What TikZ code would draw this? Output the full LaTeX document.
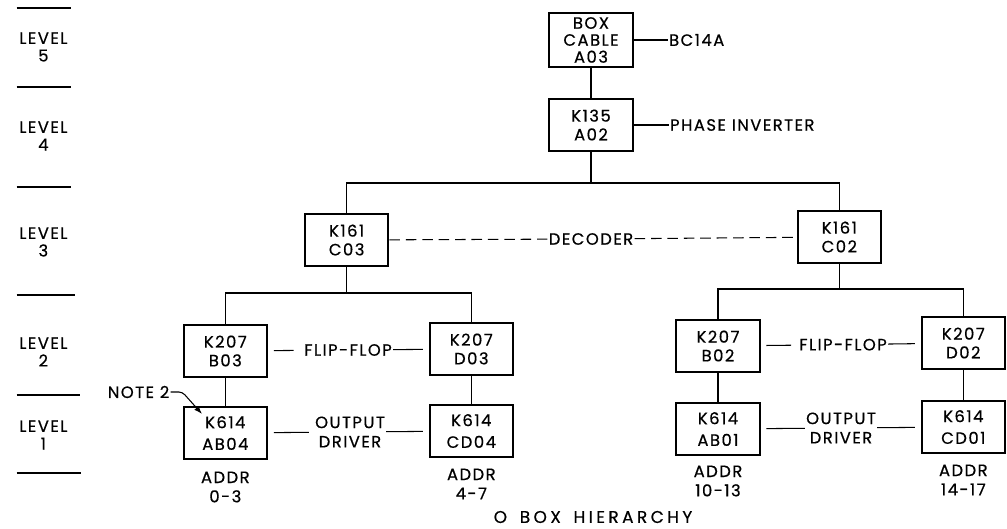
\documentclass[tikz,border=0pt]{standalone}
\usepackage{fontspec}
\usepackage{tikz}
\usetikzlibrary{arrows.meta}
\newfontfamily\lettering[LetterSpace=9,FakeBold=0.5]{Poppins}
\newfontfamily\titlelettering[LetterSpace=20,WordSpace=1.6,FakeBold=0.5]{Poppins}

\begin{document}
\begin{tikzpicture}[
    box/.style={rectangle, draw, line width=1.9pt, minimum width=2.5cm, minimum height=1.54cm, align=center, inner sep=1pt, font=\lettering\fontsize{14}{16}\selectfont},
    tag/.style={inner sep=1pt, align=center, font=\lettering\fontsize{14}{15}\selectfont},
    addr/.style={tag, font=\lettering\fontsize{14}{16.5}\selectfont},
    wire/.style={line width=0.9pt},
    gap/.style={wire, shorten <=0.17cm},
    link/.style={wire, dash pattern=on 9pt off 5pt}
]
\useasboundingbox (0,0) rectangle (30.21,15.87);

% Level scale
\foreach \y/\r in {15.63/2.13, 13.26/2.13, 10.26/2.13, 7.02/2.25, 4.02/2.4, 1.68/2.43}
    \draw[wire] (0.5,\y) -- (\r,\y);
\node[tag] (lv5) at (1.3,14.46) {LEVEL\\5};
\node[tag] (lv4) at (1.3,11.79) {LEVEL\\4};
\node[tag] (lv3) at (1.3,8.61) {LEVEL\\3};
\node[tag] (lv2) at (1.3,5.31) {LEVEL\\2};
\node[tag] (lv1) at (1.3,2.82) {LEVEL\\1};

% Level 5 and 4
\node[box, minimum height=1.62cm] (cable) at (17.73,14.67) {BOX\\[-1.5pt]CABLE\\[-1.5pt]A03};
\node[box] (inv) at (17.73,12.12) {K135\\A02};
\node[tag, anchor=west] (bc) at (20.03,14.67) {BC14A};
\node[tag, anchor=west] (ph) at (20.06,12.12) {PHASE INVERTER};

% Level 3
\node[box] (c03) at (10.4,8.67) {K161\\C03};
\node[box] (c02) at (25.18,8.76) {K161\\C02};
\node[tag] (dec) at (17.73,8.70) {DECODER};
\coordinate (busT) at (17.73,10.38);

% Level 2
\node[box] (b03) at (6.76,5.34) {K207\\B03};
\node[box] (d03) at (14.14,5.40) {K207\\D03};
\node[box] (b02) at (21.54,5.49) {K207\\B02};
\node[box] (d02) at (28.90,5.58) {K207\\D02};
\node[tag] (ffL) at (10.44,5.37) {FLIP-FLOP};
\node[tag] (ffR) at (25.29,5.53) {FLIP-FLOP};
\coordinate (busL) at (10.4,7.08);
\coordinate (busR) at (25.18,7.2);

% Level 1
\node[box] (ab04) at (6.76,2.88) {K614\\[2.5pt]AB04};
\node[box] (cd04) at (14.14,2.94) {K614\\[2.5pt]CD04};
\node[box] (ab01) at (21.54,3.00) {K614\\[2.5pt]AB01};
\node[box] (cd01) at (28.90,3.06) {K614\\[2.5pt]CD01};
\node[tag] (odL) at (10.5,2.91) {OUTPUT\\[1.5pt]DRIVER};
\node[tag] (odR) at (25.23,3.03) {OUTPUT\\[1.5pt]DRIVER};

% Addresses
\node[addr] (a03) at (6.76,1.26) {ADDR\\0-3};
\node[addr] (a47) at (14.14,1.35) {ADDR\\4-7};
\node[addr] (a1013) at (21.54,1.44) {ADDR\\10-13};
\node[addr] (a1417) at (28.90,1.47) {ADDR\\14-17};

% Note
\node[tag, anchor=east] (note) at (5.12,4.11) {NOTE 2};
\coordinate (n2) at (6.06,3.45);

% Title
\node[inner sep=1pt, font=\titlelettering\fontsize{14.5}{18}\selectfont] (title) at (17.79,0.36) {O BOX HIERARCHY};

% Connections
\draw[wire] (cable) -- (inv);
\draw[wire] (cable) -- (bc);
\draw[wire] (inv) -- (ph);
\draw[wire] (inv) -- (busT);
\draw[wire] (c03) |- (busT) -| (c02);
\draw[link] (c03) -- (dec);
\draw[link] (dec) -- (c02);
\draw[wire] (c03) -- (busL);
\draw[wire] (b03) |- (busL) -| (d03);
\draw[wire] (c02) -- (busR);
\draw[wire] (b02) |- (busR) -| (d02);
\draw[wire] (b03) -- (ab04);
\draw[wire] (d03) -- (cd04);
\draw[wire] (b02) -- (ab01);
\draw[wire] (d02) -- (cd01);
\draw[gap, shorten >=0.28cm] (b03) -- (ffL);
\draw[gap] (d03) -- (ffL);
\draw[gap, shorten >=0.2cm] (b02) -- (ffR);
\draw[gap] (d02) -- (ffR);
\draw[gap, shorten >=0.15cm] (ab04) -- (odL);
\draw[gap] (cd04) -- (odL);
\draw[gap] (ab01) -- (odR);
\draw[gap] (cd01) -- (odR);
\draw[wire, -{Latex[length=7pt,width=5pt]}, rounded corners=3pt] (note.east) -- (5.47,4.11) -- (n2);

\end{tikzpicture}
\end{document}
